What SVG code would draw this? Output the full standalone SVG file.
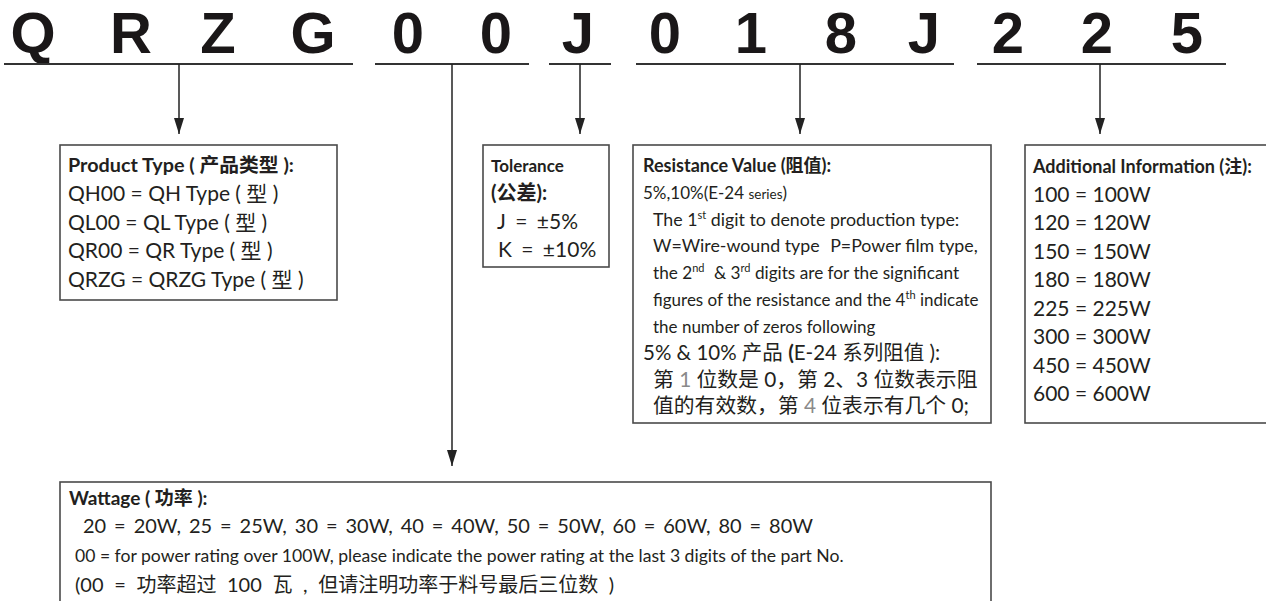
<svg xmlns="http://www.w3.org/2000/svg" width="1266" height="601" viewBox="0 0 1266 601">
<style>
text{font-family:Lato,"Noto Sans CJK SC",sans-serif;fill:#231f20}
.big{font-family:"Liberation Sans",Arial,sans-serif;font-size:58px;font-weight:700;text-anchor:middle;fill:#1a1718}
.hd{font-size:18px;font-weight:700}
.bd{font-size:21px}
.rs{font-size:17.5px}
.cj{font-size:20.8px}
.sup{font-size:11px}
.box{fill:#fff;stroke:#4a4a4a;stroke-width:1.6}
.ul{stroke:#333;stroke-width:2}
.ar{stroke:#222;stroke-width:1.5;marker-end:url(#ah)}
.gr{fill:#8a8a8a}
</style>
<defs>
<marker id="ah" markerUnits="userSpaceOnUse" markerWidth="17" markerHeight="11" refX="16" refY="5" orient="auto" viewBox="0 0 17 11">
<path d="M0,0 L16,5 L0,10 Z" fill="#222"/>
</marker>
</defs>
<rect width="1266" height="601" fill="#fff"/>
<g id="header">
<text class="big" x="33" y="53">Q</text>
<text class="big" x="131" y="53">R</text>
<text class="big" x="218" y="53">Z</text>
<text class="big" x="313" y="53">G</text>
<text class="big" x="408" y="53">0</text>
<text class="big" x="496" y="53">0</text>
<text class="big" x="578" y="53">J</text>
<text class="big" x="665" y="53">0</text>
<text class="big" x="751" y="53">1</text>
<text class="big" x="841" y="53">8</text>
<text class="big" x="924" y="53">J</text>
<text class="big" x="1008" y="53">2</text>
<text class="big" x="1097" y="53">2</text>
<text class="big" x="1187" y="53">5</text>
</g>
<g id="connectors">
<line class="ul" x1="4" y1="64" x2="353" y2="64"/>
<line class="ul" x1="375" y1="64" x2="529" y2="64"/>
<line class="ul" x1="549" y1="64" x2="611" y2="64"/>
<line class="ul" x1="636" y1="64" x2="954" y2="64"/>
<line class="ul" x1="977" y1="64" x2="1226" y2="64"/>
<line class="ar" x1="179" y1="64" x2="179" y2="134"/>
<line class="ar" x1="452" y1="64" x2="452" y2="466"/>
<line class="ar" x1="580" y1="64" x2="580" y2="134"/>
<line class="ar" x1="800" y1="64" x2="800" y2="134"/>
<line class="ar" x1="1100" y1="64" x2="1100" y2="134"/>
</g>
<g id="product-type">
<rect class="box" x="60" y="145" width="277" height="155"/>
<text class="hd" x="68" y="172" style="font-size:19.8px">Product Type ( 产品类型 ):</text>
<text class="bd" x="68" y="201">QH00 = QH Type ( 型 )</text>
<text class="bd" x="68" y="230">QL00 = QL Type ( 型 )</text>
<text class="bd" x="68" y="258">QR00 = QR Type ( 型 )</text>
<text class="bd" x="68" y="287">QRZG = QRZG Type ( 型 )</text>
</g>
<g id="tolerance">
<rect class="box" x="483" y="145" width="126" height="122"/>
<text class="hd" x="491" y="172" style="font-size:17px">Tolerance</text>
<text class="hd" x="491" y="200" style="font-size:20px">(公差):</text>
<text class="bd" x="497" y="229" word-spacing="4">J = ±5%</text>
<text class="bd" x="498" y="257" word-spacing="4">K = ±10%</text>
</g>
<g id="resistance-value">
<rect class="box" x="633" y="145" width="358" height="278"/>
<text class="hd" x="643" y="172">Resistance Value (阻值):</text>
<text class="rs" x="643" y="199" style="font-size:17px">5%,10%(E-24 <tspan style="font-size:13.5px">series</tspan>)</text>
<text class="rs" x="653" y="226" style="font-size:17.8px">The 1<tspan class="sup" dy="-7">st</tspan><tspan dy="7"> digit to denote production type:</tspan></text>
<text class="rs" x="653" y="252" style="font-size:17.8px">W=Wire-wound type<tspan dx="6"> P=Power film type,</tspan></text>
<text class="rs" x="653" y="279" style="font-size:17.2px">the 2<tspan class="sup" dy="-7">nd</tspan><tspan dy="7" dx="5"> &amp; 3</tspan><tspan class="sup" dy="-7">rd</tspan><tspan dy="7"> digits are for the significant</tspan></text>
<text class="rs" x="653" y="306" style="font-size:17px">figures of the resistance and the 4<tspan class="sup" dy="-7">th</tspan><tspan dy="7"> indicate</tspan></text>
<text class="rs" x="653" y="333" style="font-size:17px">the number of zeros following</text>
<text class="cj" x="643" y="360" style="font-size:20.5px">5% &amp; 10% 产品 <tspan font-weight="700">(</tspan>E-24 系列阻值 ):</text>
<text class="cj" x="653" y="387">第 <tspan class="gr">1</tspan> 位数是 0，第 2、3 位数表示阻</text>
<text class="cj" x="653" y="413">值的有效数，第 <tspan class="gr">4</tspan> 位表示有几个 0;</text>
</g>
<g id="additional-information">
<rect class="box" x="1025" y="145" width="260" height="278"/>
<text class="hd" x="1033" y="173">Additional Information (注):</text>
<text class="bd" x="1033" y="202">100 = 100W</text>
<text class="bd" x="1033" y="230">120 = 120W</text>
<text class="bd" x="1033" y="259">150 = 150W</text>
<text class="bd" x="1033" y="287">180 = 180W</text>
<text class="bd" x="1033" y="316">225 = 225W</text>
<text class="bd" x="1033" y="344">300 = 300W</text>
<text class="bd" x="1033" y="373">450 = 450W</text>
<text class="bd" x="1033" y="401">600 = 600W</text>
</g>
<g id="wattage">
<rect class="box" x="60" y="482" width="931" height="140"/>
<text class="hd" x="69" y="505" style="font-size:19px">Wattage ( 功率 ):</text>
<text x="83" y="533" font-size="20" word-spacing="2.8">20 = 20W, 25 = 25W, 30 = 30W, 40 = 40W, 50 = 50W, 60 = 60W, 80 = 80W</text>
<text x="75" y="562" font-size="17.6">00 = for power rating over 100W, please indicate the power rating at the last 3 digits of the part No.</text>
<text x="75" y="592" font-size="20" word-spacing="5.5">(00 = 功率超过 100 瓦 , 但请注明功率于料号最后三位数 )</text>
</g>
</svg>
